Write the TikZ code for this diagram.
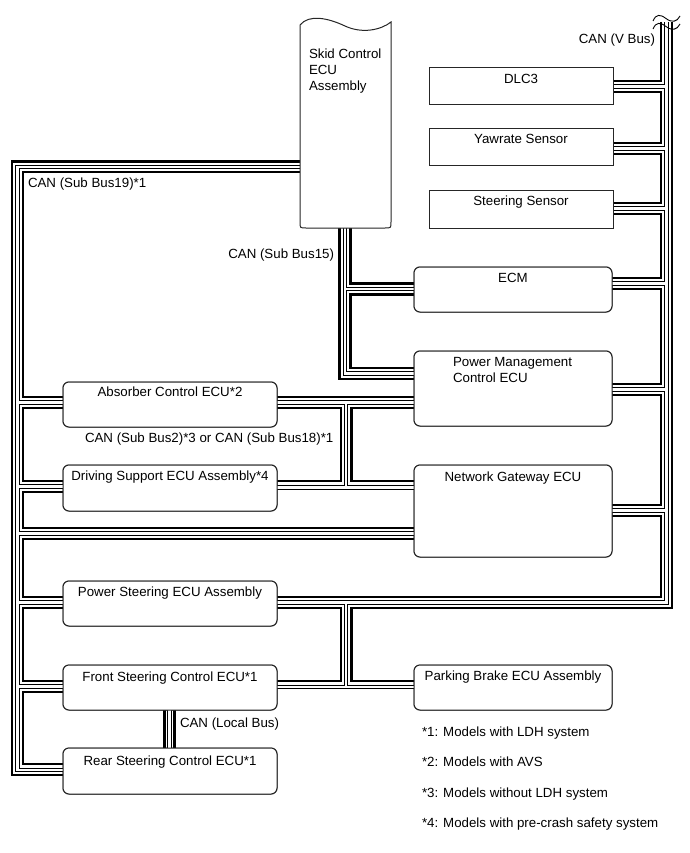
\documentclass[tikz,border=0pt]{standalone}
\usepackage{fontspec}
\setmainfont{Liberation Sans}
\newcommand\hollowset[1]{%
  % Sub Bus19 (left trunk)
  \draw[#1] (skid.west |- 0,166.8) -| (17.5,770) -- (rs.west |- 0,770);
  \draw[#1] (17.5,402.5) -- (abs.west |- 0,402.5);
  \draw[#1] (17.5,486.5) -- (ds.west |- 0,486.5);
  \draw[#1] (17.5,533.5) -- (ngw.west |- 0,533.5);
  \draw[#1] (17.5,602.5) -- (ps.west |- 0,602.5);
  \draw[#1] (17.5,686.5) -- (fs.west |- 0,686.5);
  % Sub Bus15
  \draw[#1] (skid.south -| 345,0) |- (pmc.west |- 0,373.5);
  \draw[#1] (345,289) -- (ecm.west |- 0,289);
  % Sub Bus2 / Sub Bus18
  \draw[#1] (abs.east |- 0,402.5) -- (pmc.west |- 0,402.5);
  \draw[#1] (346,402.5) -- (346,487.5);
  \draw[#1] (ds.east |- 0,487.5) -- (ngw.west |- 0,487.5);
  % V Bus
  \draw[#1] (666.5,22) |- (ps.east |- 0,602.5);
  \draw[#1] (666.5,86.5) -- (dlc.east |- 0,86.5);
  \draw[#1] (666.5,148.5) -- (yaw.east |- 0,148.5);
  \draw[#1] (666.5,208.5) -- (ste.east |- 0,208.5);
  \draw[#1] (666.5,283.5) -- (ecm.east |- 0,283.5);
  \draw[#1] (666.5,389.5) -- (pmc.east |- 0,389.5);
  \draw[#1] (666.5,510.5) -- (ngw.east |- 0,510.5);
  \draw[#1] (346,602.5) -- (346,687);
  \draw[#1] (fs.east |- 0,687) -- (pb.west |- 0,687);
  % Local Bus
  \draw[#1] (fs.south -| 169.5,0) -- (rs.north -| 169.5,0);
}
\begin{document}
\begin{tikzpicture}[x=1pt,y=-1pt,
  thk/.style={line width=2.5pt, line join=miter, line cap=butt},
  holA/.style={line width=4.4pt, line join=miter, black},
  holB/.style={line width=2.1pt, line join=miter, white},
  box/.style={draw=black!85, line width=1pt, fill=white, inner sep=0pt, outer sep=0pt},
  rbox/.style={box, rounded corners=6pt},
  txt/.style={font=\fontsize{13.3}{16}\selectfont, inner sep=0pt, outer sep=0pt},
  brk/.style={line width=0.9pt, black}]
\useasboundingbox (0,0) rectangle (689,853);

% ---------- nodes (boxes) ----------
\node[inner sep=0pt, outer sep=0pt, minimum width=91pt, minimum height=206pt] (skid) at (345.5,125) {};
\node[box, minimum width=184pt, minimum height=37pt] (dlc) at (521,86.5) {};
\node[box, minimum width=184pt, minimum height=37pt] (yaw) at (521,147.5) {};
\node[box, minimum width=184pt, minimum height=38pt] (ste) at (521,209) {};
\node[rbox, minimum width=198pt, minimum height=45pt] (ecm) at (513,289.5) {};
\node[rbox, minimum width=198pt, minimum height=75pt] (pmc) at (513,388.5) {};
\node[rbox, minimum width=198pt, minimum height=92pt] (ngw) at (513,511) {};
\node[rbox, minimum width=198pt, minimum height=45pt] (pb) at (513,687.5) {};
\node[rbox, minimum width=214pt, minimum height=45pt] (abs) at (170,404.5) {};
\node[rbox, minimum width=214pt, minimum height=46pt] (ds) at (170,488) {};
\node[rbox, minimum width=214pt, minimum height=45pt] (ps) at (170,603.5) {};
\node[rbox, minimum width=214pt, minimum height=45pt] (fs) at (170,687.5) {};
\node[rbox, minimum width=214pt, minimum height=46pt] (rs) at (170,771) {};

% ---------- thick wires ----------
% V Bus
\draw[thk] (661,22) |- (dlc.east |- 0,81);
\draw[thk] (dlc.east |- 0,92) -| (661,143) -- (yaw.east |- 0,143);
\draw[thk] (yaw.east |- 0,154) -| (661,203) -- (ste.east |- 0,203);
\draw[thk] (ste.east |- 0,214) -| (661,278) -- (ecm.east |- 0,278);
\draw[thk] (ecm.east |- 0,289) -| (661,384) -- (pmc.east |- 0,384);
\draw[thk] (pmc.east |- 0,395) -| (661,505) -- (ngw.east |- 0,505);
\draw[thk] (ngw.east |- 0,516) -| (661,597) -- (ps.east |- 0,597);
\draw[thk] (ps.east |- 0,608) -| (341,681) -- (fs.east |- 0,681);
\draw[thk] (672,22) |- (351.5,608) |- (pb.west |- 0,681);
% Sub Bus19
\draw[thk] (skid.west |- 0,161.5) -| (12,775) -- (rs.west |- 0,775);
\draw[thk] (skid.west |- 0,172) -| (23,397) -- (abs.west |- 0,397);
\draw[thk] (abs.west |- 0,408) -| (23,481) -- (ds.west |- 0,481);
\draw[thk] (ds.west |- 0,492) -| (23,528) -- (ngw.west |- 0,528);
\draw[thk] (ngw.west |- 0,539) -| (23,597) -- (ps.west |- 0,597);
\draw[thk] (ps.west |- 0,608) -| (23,681) -- (fs.west |- 0,681);
\draw[thk] (fs.west |- 0,692) -| (23,764) -- (rs.west |- 0,764);
% Sub Bus15
\draw[thk] (skid.south -| 339.5,0) |- (pmc.west |- 0,379);
\draw[thk] (skid.south -| 350.5,0) |- (ecm.west |- 0,283.5);
\draw[thk] (ecm.west |- 0,294.5) -| (350.5,368) -- (pmc.west |- 0,368);
% Sub Bus2 / Sub Bus18
\draw[thk] (abs.east |- 0,397) -- (pmc.west |- 0,397);
\draw[thk] (abs.east |- 0,408) -| (341,481) -- (ds.east |- 0,481);
\draw[thk] (pmc.west |- 0,408) -| (351.5,481) -- (ngw.west |- 0,481);
% Local Bus
\draw[thk] (fs.south -| 164.5,0) -- (rs.north -| 164.5,0);
\draw[thk] (fs.south -| 174.5,0) -- (rs.north -| 174.5,0);

% ---------- hollow wires ----------
\hollowset{holA}
\hollowset{holB}

% ---------- redraw boxes on top ----------
\draw[box] (dlc.north west) rectangle (dlc.south east);
\draw[box] (yaw.north west) rectangle (yaw.south east);
\draw[box] (ste.north west) rectangle (ste.south east);
\foreach \n in {ecm,pmc,ngw,pb,abs,ds,ps,fs,rs}
  \draw[rbox] (\n.north west) rectangle (\n.south east);
% Skid Control ECU Assembly (torn top)
\draw[box] (300,25) .. controls (309,14) and (328,18) .. (345,26)
  .. controls (362,34) and (381,30) .. (391,22) -- (391,222)
  .. controls (391,228) .. (385,228) -- (306,228)
  .. controls (300,228) .. (300,222) -- cycle;

% break mark on V Bus
\draw[brk] (653,21) .. controls (656,14) and (660,14) .. (666,18.5) .. controls (672,23) and (677,22) .. (680,16);
\draw[brk] (653,29) .. controls (656,22) and (660,22) .. (666,26.5) .. controls (672,31) and (677,30) .. (680,24);

% ---------- texts ----------
\node[txt, anchor=base west] (skidA) at (309,58.5) {Skid Control};
\node[txt, anchor=base west] (skidB) at (309,74.5) {ECU};
\node[txt, anchor=base west] (skidC) at (309,90.5) {Assembly};
\node[txt, anchor=base] (dlcT) at (521,84) {DLC3};
\node[txt, anchor=base] (yawT) at (521,144) {Yawrate Sensor};
\node[txt, anchor=base] (steT) at (521,205) {Steering Sensor};
\node[txt, anchor=base] (ecmT) at (513,282) {ECM};
\node[txt, anchor=base west] (pmcA) at (453,366) {Power Management};
\node[txt, anchor=base west] (pmcB) at (453,382) {Control ECU};
\node[txt, anchor=base] (ngwT) at (513,481) {Network Gateway ECU};
\node[txt, anchor=base] (pbT) at (513,680) {Parking Brake ECU Assembly};
\node[txt, anchor=base] (absT) at (170,396.5) {Absorber Control ECU*2};
\node[txt, anchor=base] (dsT) at (170,480.5) {Driving Support ECU Assembly*4};
\node[txt, anchor=base] (psT) at (170,596) {Power Steering ECU Assembly};
\node[txt, anchor=base] (fsT) at (170,681) {Front Steering Control ECU*1};
\node[txt, anchor=base] (rsT) at (170,765) {Rear Steering Control ECU*1};

\node[txt, anchor=base east] (vbus) at (655,44) {CAN (V Bus)};
\node[txt, anchor=base west] (sb19) at (28,187.5) {CAN (Sub Bus19)*1};
\node[txt, anchor=base east] (sb15) at (334,258.5) {CAN (Sub Bus15)};
\node[txt, anchor=base west] (sb2) at (85,442.5) {CAN (Sub Bus2)*3 or CAN (Sub Bus18)*1};
\node[txt, anchor=base west] (lbus) at (180,727.5) {CAN (Local Bus)};

\node[txt, anchor=base west] (n1) at (422,736.5) {*1: Models with LDH system};
\node[txt, anchor=base west] (n2) at (422,766.5) {*2: Models with AVS};
\node[txt, anchor=base west] (n3) at (422,797) {*3: Models without LDH system};
\node[txt, anchor=base west] (n4) at (422,827) {*4: Models with pre-crash safety system};
\end{tikzpicture}
\end{document}
